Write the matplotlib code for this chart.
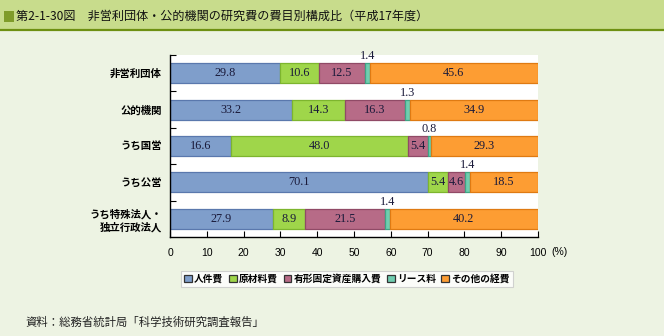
import matplotlib.pyplot as plt
import numpy as np
from matplotlib.patches import Patch, Rectangle
from matplotlib.lines import Line2D

plt.rcParams['font.family'] = ['Noto Sans CJK JP', 'DejaVu Sans']

# 組織区分
orgs = ["非営利団体", "公的機関", "うち国営", "うち公営", "うち特殊法人・\n独立行政法人"]

# 費目別構成比 (%)
jinken = [29.8, 33.2, 16.6, 70.1, 27.9]
genzairyo = [10.6, 14.3, 48.0, 5.4, 8.9]
yukei = [12.5, 16.3, 5.4, 4.6, 21.5]
lease = [1.4, 1.3, 0.8, 1.4, 1.4]
sonota = [45.6, 34.9, 29.3, 18.5, 40.2]

series = [jinken, genzairyo, yukei, lease, sonota]
names = ["人件費", "原材料費", "有形固定資産購入費", "リース料", "その他の経費"]
colors = ["#7f9ecb", "#9fd64a", "#b76b87", "#6fcdb0", "#fd9d33"]
edges = ["#5a78ad", "#7db52e", "#904a66", "#3fa484", "#df7a12"]

bg = "#edf3e3"
fig = plt.figure(figsize=(6.64, 3.36), dpi=100, facecolor=bg)

# タイトル帯
fig.patches.append(Rectangle((0, 1 - 30 / 336), 1, 30 / 336, transform=fig.transFigure,
                             facecolor="#c8dc8c", edgecolor="none", zorder=0))
fig.add_artist(Line2D([0, 1], [1 - 30 / 336] * 2, transform=fig.transFigure,
                      color="#6e9012", lw=1.6))
fig.patches.append(Rectangle((4 / 664, 1 - 22 / 336), 10 / 664, 11 / 336,
                             transform=fig.transFigure, facecolor="#7f9c2a",
                             edgecolor="none"))
fig.text(16 / 664, 1 - 16 / 336, "第2-1-30図　非営利団体・公的機関の研究費の費目別構成比（平成17年度）",
         fontsize=8.7, va="center", ha="left", color="#111111")

ax = fig.add_axes([170 / 664, 1 - 237 / 336, 368 / 664, 182 / 336])
ax.set_facecolor("white")

y = np.arange(len(orgs))
left = np.zeros(len(orgs))
for vals, name, c, ec in zip(series, names, colors, edges):
    vals = np.array(vals)
    ax.barh(y, vals, left=left, height=0.55, color=c, edgecolor=ec, linewidth=0.9,
            label=name)
    for i, v in enumerate(vals):
        cx = left[i] + v / 2
        if name == "リース料":
            ax.text(cx, y[i] - 0.3, f"{v:.1f}", ha="center", va="bottom",
                    fontsize=8.8, family="Liberation Serif", color="#1a1a3a")
        else:
            ax.text(cx, y[i], f"{v:.1f}", ha="center", va="center",
                    fontsize=8.8, family="Liberation Serif", color="#1a1a3a")
    left += vals

ax.set_xlim(0, 100)
ax.set_ylim(4.5, -0.5)
ax.set_xticks(np.arange(0, 101, 10))
ax.tick_params(axis="x", direction="in", length=4, width=0.8, labelsize=7.5, pad=8)
for lab in ax.get_xticklabels():
    lab.set_family("Liberation Sans")

ax.set_yticks(y)
ax.set_yticklabels(orgs, fontsize=7.5, fontweight="bold", linespacing=1.3)
ax.tick_params(axis="y", which="major", length=0, pad=6)
ax.set_yticks(np.arange(-0.5, 4.5, 1), minor=True)
ax.tick_params(axis="y", which="minor", direction="in", length=4, width=0.8)

for s in ["top", "right"]:
    ax.spines[s].set_visible(False)
for s in ["left", "bottom"]:
    ax.spines[s].set_linewidth(1.0)

fig.text(560 / 664, 1 - 252 / 336, "(%)", fontsize=7.5, family="Liberation Sans",
         ha="center", va="center")

handles = [Patch(facecolor=c, edgecolor="#333333", linewidth=0.9) for c in colors]
leg = fig.legend(handles, names, loc="center", bbox_to_anchor=(347 / 664, 1 - 279 / 336),
                 ncol=5, handlelength=0.8, handleheight=0.8,
                 handletextpad=0.2, columnspacing=0.6, borderpad=0.35,
                 fancybox=False, frameon=True, prop={"weight": "bold", "size": 7})
leg.get_frame().set_edgecolor("#c8c8c8")
leg.get_frame().set_linewidth(0.8)

fig.text(25 / 664, 1 - 322 / 336, "資料：総務省統計局「科学技術研究調査報告」",
         fontsize=8.2, ha="left", va="center", color="#222222")

fig.savefig("out.png", dpi=100, facecolor=bg)
